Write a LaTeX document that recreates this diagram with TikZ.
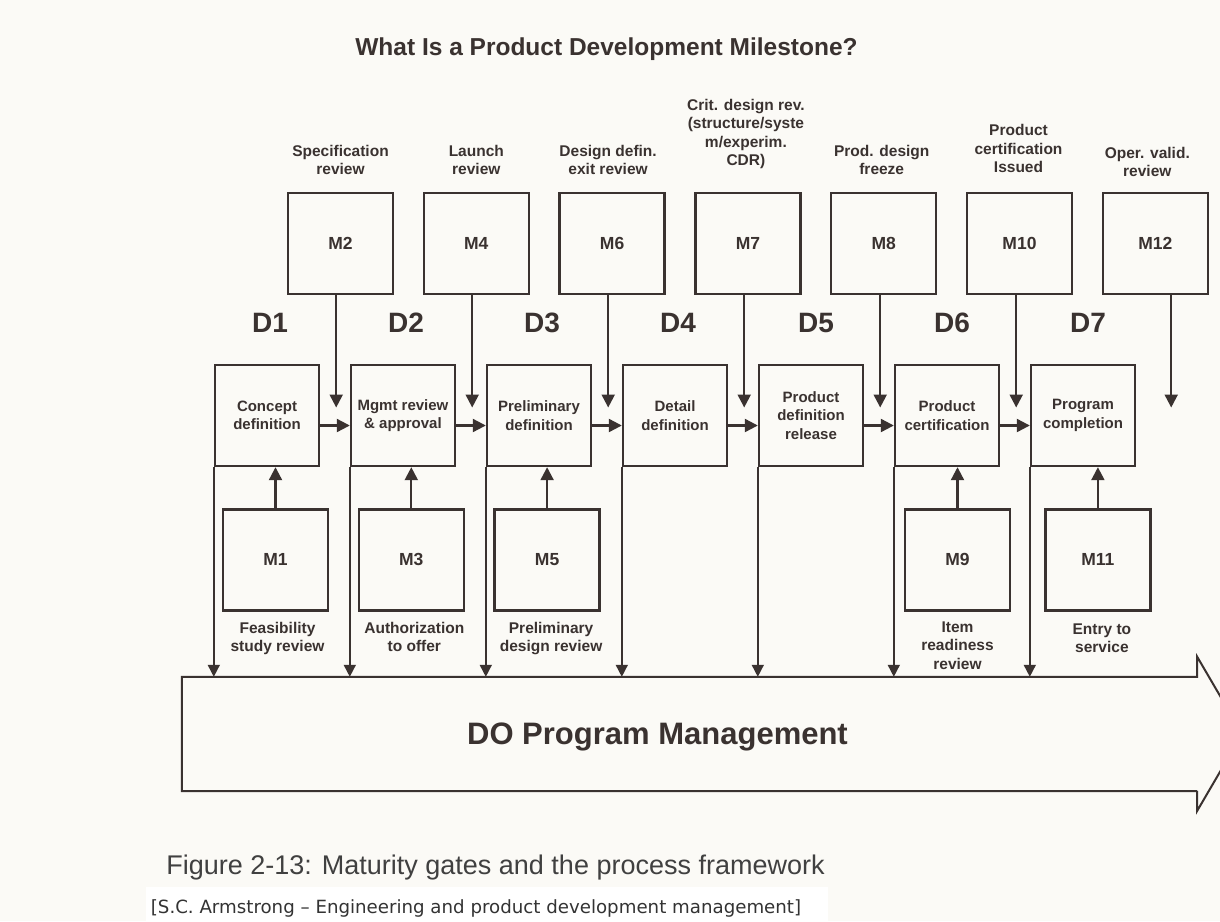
\documentclass[tikz,border=0pt]{standalone}
\usepackage{fontspec}
\setmainfont{Liberation Sans}
\newfontfamily\citefont{DejaVu Sans}
\usetikzlibrary{positioning}
\usetikzlibrary{arrows.meta}
\usetikzlibrary{calc}
\definecolor{ink}{RGB}{58,50,48}
\definecolor{paper}{RGB}{251,250,246}

\begin{document}
\begin{tikzpicture}[x=1pt, y=-1pt,
		% Style definitions
		stage/.style={draw=ink, line width=2.4pt, minimum width=104pt, minimum height=101pt, inner sep=2pt, align=center, text=ink, font=\fontsize{15}{18.5}\selectfont\bfseries},
		gate/.style={draw=ink, line width=2.4pt, minimum width=105pt, minimum height=101pt, text=ink, font=\fontsize{17.5}{19}\selectfont\bfseries},
		phase/.style={inner sep=0pt, text=ink, font=\fontsize{28}{30}\selectfont\bfseries},
		note/.style={inner sep=0pt, align=center, text=ink, font=\fontsize{15.5}{18.3}\selectfont\bfseries},
		arrow/.style={-{Triangle[length=13pt, width=13pt]}, line width=2.2pt, draw=ink},
		link/.style={-{Triangle[length=12pt, width=12pt]}, line width=1.6pt, draw=ink},
		% Uniform spacing
		node distance=29.6pt and 29.6pt,
		]
		% Page and background
		\useasboundingbox (0,0) rectangle (1220,921);
		\clip (0,0) rectangle (1220,921);
		\fill[paper] (0,0) rectangle (1220,921);
		\fill[white] (146,887) rectangle (828,921);

		% Title
		\node[anchor=base, text=ink, font=\fontsize{24.5}{27}\selectfont\bfseries] (title) at (606.5,55) {What Is a Product Development Milestone?};

		% Row 1: process stages (left to right)
		\node[stage] (concept) at (267,415.5) {Concept\\definition};
		\node[stage, right=of concept] (mgmt) {Mgmt review\\\& approval};
		\node[stage, right=of mgmt] (prelim) {Preliminary\\definition};
		\node[stage, right=of prelim] (detail) {Detail\\definition};
		\node[stage, right=of detail] (release) {Product\\definition\\release};
		\node[stage, right=of release] (cert) {Product\\certification};
		\node[stage, right=of cert] (complete) {Program\\completion};

		% Phase labels
		\node[phase, above=31pt of concept, xshift=3pt] (d1) {D1};
		\node[phase, above=31pt of mgmt, xshift=3pt] (d2) {D2};
		\node[phase, above=31pt of prelim, xshift=3pt] (d3) {D3};
		\node[phase, above=31pt of detail, xshift=3pt] (d4) {D4};
		\node[phase, above=31pt of release, xshift=5pt] (d5) {D5};
		\node[phase, above=31pt of cert, xshift=5pt] (d6) {D6};
		\node[phase, above=31pt of complete, xshift=5pt] (d7) {D7};

		% Row 0: milestones above the stages
		\node[gate] (m2) at (340.5,243.5) {M2};
		\node[gate, right=28.4pt of m2] (m4) {M4};
		\node[gate, right=28.4pt of m4] (m6) {M6};
		\node[gate, right=28.4pt of m6] (m7) {M7};
		\node[gate, right=28.4pt of m7] (m8) {M8};
		\node[gate, right=28.4pt of m8] (m10) {M10};
		\node[gate, right=28.4pt of m10] (m12) {M12};

		\node[note, above=17pt of m2] (n2) {Specification\\review};
		\node[note, above=17pt of m4] (n4) {Launch\\review};
		\node[note, above=17pt of m6, xshift=-4pt] (n6) {Design defin.\\exit review};
		\node[note, above=23pt of m7, xshift=-2pt] (n7) {Crit. design rev.\\(structure/syste\\m/experim.\\CDR)};
		\node[note, above=17pt of m8, xshift=-2pt] (n8) {Prod. design\\freeze};
		\node[note, above=19pt of m10, xshift=-1pt] (n10) {Product\\certification\\Issued};
		\node[note, above=15pt of m12, xshift=-8pt] (n12) {Oper. valid.\\review};

		% Row 2: milestones below the stages
		\node[gate, below=41pt of concept, xshift=8.5pt] (m1) {M1};
		\node[gate, right=28.4pt of m1] (m3) {M3};
		\node[gate, right=28.4pt of m3] (m5) {M5};
		\node[gate, below=41pt of cert, xshift=10.5pt] (m9) {M9};
		\node[gate, right=33pt of m9] (m11) {M11};

		\node[note, below=10pt of m1, xshift=2pt] (n1) {Feasibility\\study review};
		\node[note, below=10pt of m3, xshift=3pt] (n3) {Authorization\\to offer};
		\node[note, below=10pt of m5, xshift=4pt] (n5) {Preliminary\\design review};
		\node[note, below=10pt of m9] (n9) {Item\\readiness\\review};
		\node[note, below=12pt of m11, xshift=4pt] (n11) {Entry to\\service};

		% Program management band
		\node[minimum width=1015pt, minimum height=114pt, inner sep=0pt] (bar) at (689.5,734) {};
		\node[text=ink, font=\fontsize{31}{33}\selectfont\bfseries] (dopm) at (657.5,737) {DO Program Management};
		\draw[ink, line width=2pt, line join=miter] (bar.south east) -- (bar.south west) -- (bar.north west) -- (bar.north east)
			-- ++(0pt,20pt) -- ++(45pt,-77pt) -- ++(-45pt,-77pt) -- ++(0pt,20pt);

		% Drop points between stages
		\coordinate[above right=8pt and 16pt of concept.east] (g1);
		\coordinate[above right=8pt and 16pt of mgmt.east] (g2);
		\coordinate[above right=8pt and 16pt of prelim.east] (g3);
		\coordinate[above right=8pt and 16pt of detail.east] (g4);
		\coordinate[above right=8pt and 16pt of release.east] (g5);
		\coordinate[above right=8pt and 16pt of cert.east] (g6);
		\coordinate[above right=8pt and 35pt of complete.east] (g7);

		% Arrows - stage flow
		\draw[arrow] ([yshift=-10pt]concept.east) -- ([yshift=-10pt]mgmt.west);
		\draw[arrow] ([yshift=-10pt]mgmt.east) -- ([yshift=-10pt]prelim.west);
		\draw[arrow] ([yshift=-10pt]prelim.east) -- ([yshift=-10pt]detail.west);
		\draw[arrow] ([yshift=-10pt]detail.east) -- ([yshift=-10pt]release.west);
		\draw[arrow] ([yshift=-10pt]release.east) -- ([yshift=-10pt]cert.west);
		\draw[arrow] ([yshift=-10pt]cert.east) -- ([yshift=-10pt]complete.west);

		% Arrows - milestones from above
		\draw[arrow] (m2.south -| g1) -- (g1);
		\draw[arrow] (m4.south -| g2) -- (g2);
		\draw[arrow] (m6.south -| g3) -- (g3);
		\draw[arrow] (m7.south -| g4) -- (g4);
		\draw[arrow] (m8.south -| g5) -- (g5);
		\draw[arrow] (m10.south -| g6) -- (g6);
		\draw[arrow] (m12.south -| g7) -- (g7);

		% Arrows - milestones from below
		\draw[arrow] (m1.north) -- (m1.north |- concept.south);
		\draw[arrow] (m3.north) -- (m3.north |- mgmt.south);
		\draw[arrow] (m5.north) -- (m5.north |- prelim.south);
		\draw[arrow] (m9.north) -- (m9.north |- cert.south);
		\draw[arrow] (m11.north) -- (m11.north |- complete.south);

		% Links down to program management
		\draw[link] (concept.south west) -- (concept.south west |- bar.north);
		\draw[link] (mgmt.south west) -- (mgmt.south west |- bar.north);
		\draw[link] (prelim.south west) -- (prelim.south west |- bar.north);
		\draw[link] (detail.south west) -- (detail.south west |- bar.north);
		\draw[link] (release.south west) -- (release.south west |- bar.north);
		\draw[link] (cert.south west) -- (cert.south west |- bar.north);
		\draw[link] (complete.south west) -- (complete.south west |- bar.north);

		% Caption and source
		\node[anchor=base, text=black!75, font=\fontsize{27}{29}\selectfont] (caption) at (495.5,874) {Figure 2-13: Maturity gates and the process framework};
		\node[anchor=base, text=black!80, font=\citefont\fontsize{18.2}{20}\selectfont] (source) at (476,913) {[S.C. Armstrong – Engineering and product development management]};

	\end{tikzpicture}
\end{document}
